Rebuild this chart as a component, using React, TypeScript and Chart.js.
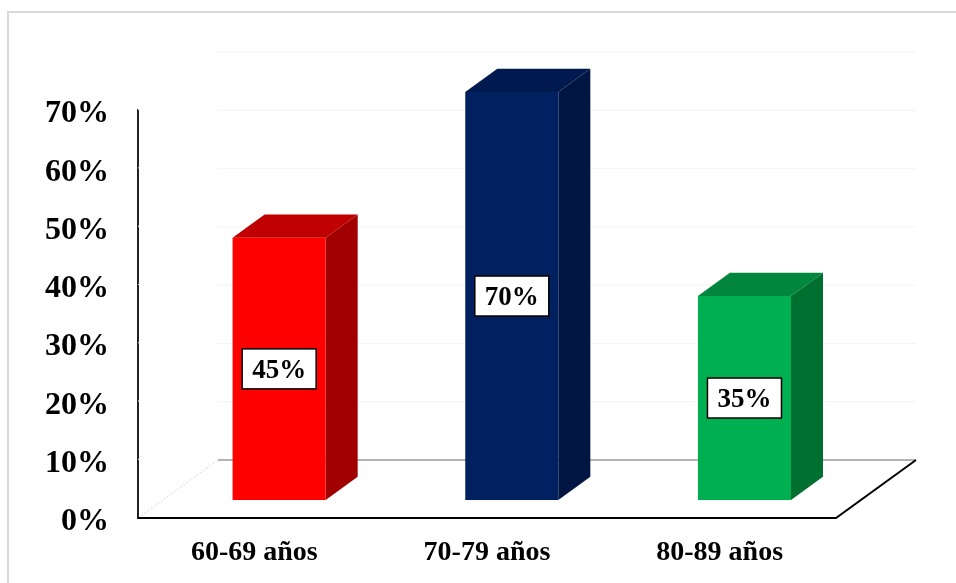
import React, { useEffect, useRef } from "react";
import { Chart, registerables } from "chart.js";

Chart.register(...registerables);

const categories = ["60-69 años", "70-79 años", "80-89 años"];
const values = [0.45, 0.7, 0.35];
const frontColors = ["#FF0000", "#002060", "#00B050"];
const topColors = ["#C00000", "#001A4F", "#00873D"];
const sideColors = ["#A00000", "#001541", "#007030"];
const yTicks = [0, 0.1, 0.2, 0.3, 0.4, 0.5, 0.6, 0.7];

const FONT = "'Times New Roman', 'Liberation Serif', serif";
const DX = 80;
const DY = -58;
const F1 = 0.31;
const F2 = 0.71;

const pct = (v: number) => Math.round(v * 100) + "%";

const threeD = {
  id: "threeD",
  beforeDraw(chart: any) {
    const { ctx, width, height } = chart;
    ctx.save();
    ctx.fillStyle = "#fff";
    ctx.fillRect(0, 0, width, height);
    ctx.strokeStyle = "#d9d9d9";
    ctx.lineWidth = 2;
    ctx.strokeRect(8, 12, width + 20, height + 20);
    ctx.restore();
  },
  beforeDatasetsDraw(chart: any) {
    const { ctx, chartArea } = chart;
    const y = chart.scales.y;
    const { left, right, bottom } = chartArea;
    ctx.save();
    ctx.lineWidth = 1;
    yTicks.forEach((t) => {
      if (t === 0) return;
      const py = y.getPixelForValue(t);
      ctx.strokeStyle = "#f4f4f4";
      ctx.beginPath();
      ctx.moveTo(left + DX, py + DY);
      ctx.lineTo(right + DX, py + DY);
      ctx.stroke();
      ctx.strokeStyle = "#fafafa";
      ctx.beginPath();
      ctx.moveTo(left, py);
      ctx.lineTo(left + DX, py + DY);
      ctx.stroke();
    });
    ctx.strokeStyle = "#9a9a9a";
    ctx.lineWidth = 1.5;
    ctx.beginPath();
    ctx.moveTo(left + DX, bottom + DY);
    ctx.lineTo(right + DX, bottom + DY);
    ctx.stroke();
    ctx.strokeStyle = "#d4d4d4";
    ctx.lineWidth = 1;
    ctx.setLineDash([2, 2]);
    ctx.beginPath();
    ctx.moveTo(left, bottom);
    ctx.lineTo(left + DX, bottom + DY);
    ctx.stroke();
    ctx.setLineDash([]);
    ctx.strokeStyle = "#000";
    ctx.lineWidth = 2;
    ctx.beginPath();
    ctx.moveTo(left, bottom);
    ctx.lineTo(right, bottom);
    ctx.lineTo(right + DX, bottom + DY);
    ctx.stroke();
    ctx.restore();
  },
  afterDatasetsDraw(chart: any) {
    const { ctx } = chart;
    const meta = chart.getDatasetMeta(0);
    const ox = F1 * DX;
    const oy = F1 * DY;
    const dx = (F2 - F1) * DX;
    const dy = (F2 - F1) * DY;
    ctx.save();
    meta.data.forEach((bar: any, i: number) => {
      const p = bar.getProps(["x", "y", "base", "width"], true);
      const l = p.x - p.width / 2 + ox;
      const r = p.x + p.width / 2 + ox;
      const t = p.y + oy;
      const b = p.base + oy;
      ctx.fillStyle = sideColors[i];
      ctx.beginPath();
      ctx.moveTo(r, b);
      ctx.lineTo(r + dx, b + dy);
      ctx.lineTo(r + dx, t + dy);
      ctx.lineTo(r, t);
      ctx.closePath();
      ctx.fill();
      ctx.fillStyle = topColors[i];
      ctx.beginPath();
      ctx.moveTo(l, t);
      ctx.lineTo(l + dx, t + dy);
      ctx.lineTo(r + dx, t + dy);
      ctx.lineTo(r, t);
      ctx.closePath();
      ctx.fill();
      ctx.fillStyle = frontColors[i];
      ctx.fillRect(l, t, r - l, b - t);
      const text = pct(values[i]);
      ctx.font = `bold 27px ${FONT}`;
      const tw = ctx.measureText(text).width;
      const cx = (l + r) / 2;
      const cy = (t + b) / 2;
      const bw = tw + 20;
      const bh = 40;
      ctx.fillStyle = "#fff";
      ctx.fillRect(cx - bw / 2, cy - bh / 2, bw, bh);
      ctx.strokeStyle = "#000";
      ctx.lineWidth = 1.5;
      ctx.strokeRect(cx - bw / 2, cy - bh / 2, bw, bh);
      ctx.fillStyle = "#000";
      ctx.textAlign = "center";
      ctx.textBaseline = "middle";
      ctx.fillText(text, cx, cy + 2);
    });
    ctx.restore();
  },
};

export default function App() {
  const ref = useRef<HTMLCanvasElement>(null);
  useEffect(() => {
    if (!ref.current) return;
    const chart = new Chart(ref.current, {
      type: "bar",
      data: {
        labels: categories,
        datasets: [
          {
            data: values,
            backgroundColor: "rgba(0,0,0,0)",
            borderWidth: 0,
            barPercentage: 0.4,
            categoryPercentage: 1,
          },
        ],
      },
      options: {
        responsive: false,
        animation: false,
        devicePixelRatio: 1,
        layout: { padding: { top: 110, right: 120, left: 0, bottom: 0 } },
        plugins: { legend: { display: false }, tooltip: { enabled: false } },
        scales: {
          x: {
            grid: { display: false },
            border: { display: false },
            ticks: {
              color: "#000",
              padding: 10,
              maxRotation: 0,
              font: { family: FONT, size: 28, weight: "bold" },
            },
            afterFit: (s: any) => {
              s.height = 65;
            },
          },
          y: {
            min: 0,
            max: 0.7,
            grid: { display: false },
            border: { display: true, color: "#222", width: 2 },
            ticks: {
              stepSize: 0.1,
              color: "#000",
              padding: 21,
              labelOffset: 4,
              font: { family: FONT, size: 32, weight: "bold" },
              callback: (v: any) => pct(Number(v)),
            },
            afterFit: (s: any) => {
              s.width = 138;
            },
          },
        },
      },
      plugins: [threeD],
    });
    return () => chart.destroy();
  }, []);
  return (
    <div style={{ position: "absolute", left: 0, top: 0, width: 956, height: 583 }}>
      <canvas ref={ref} width={956} height={583} style={{ display: "block" }} />
    </div>
  );
}
